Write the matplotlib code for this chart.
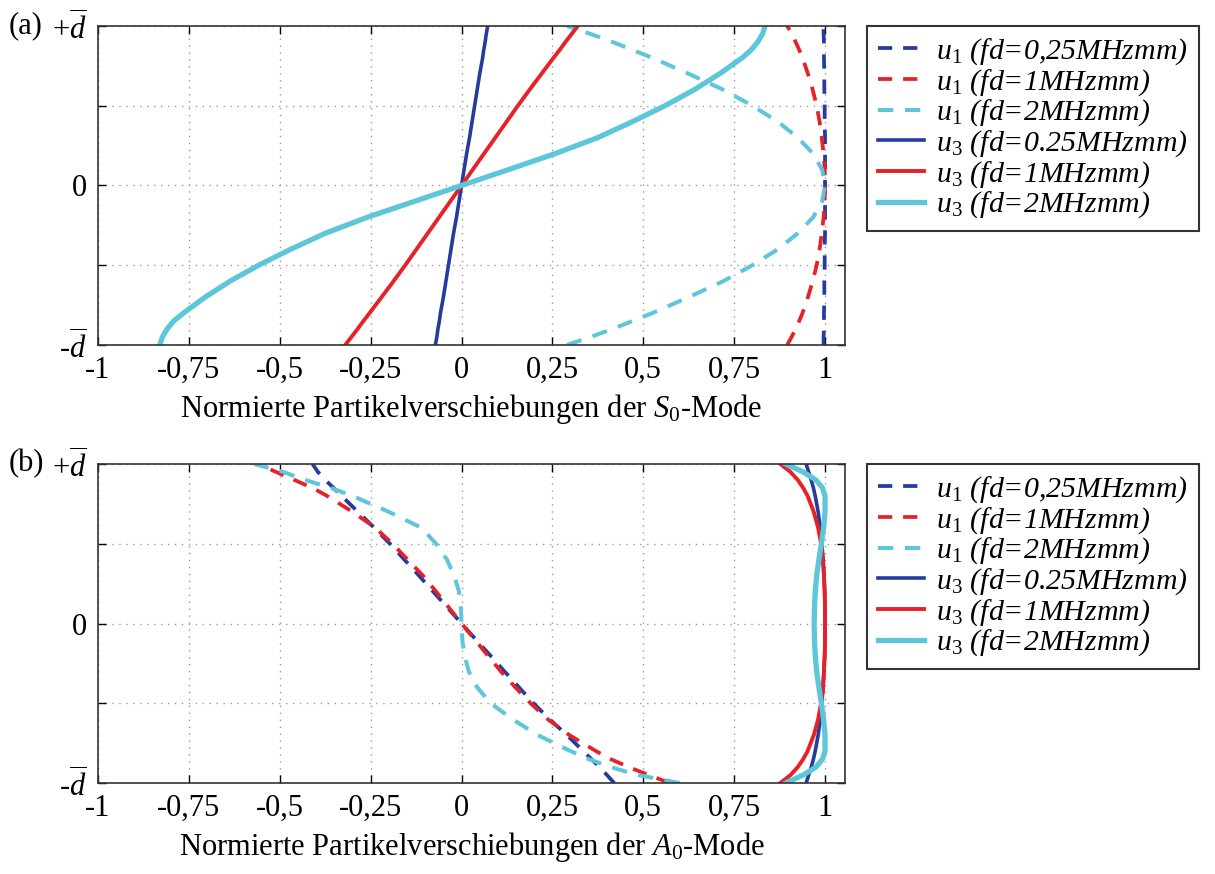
import matplotlib
matplotlib.use("Agg")
import matplotlib.pyplot as plt

plt.rcParams['font.family'] = ['Liberation Serif', 'DejaVu Serif']
plt.rcParams['mathtext.fontset'] = 'custom'
plt.rcParams['mathtext.rm'] = 'Liberation Serif'
plt.rcParams['mathtext.it'] = 'Liberation Serif:italic'
plt.rcParams['mathtext.bf'] = 'Liberation Serif:bold'

# position across the plate thickness (-d .. +d, normalised)
pos = [-1, -0.95, -0.9, -0.85, -0.8, -0.7, -0.6, -0.5, -0.4, -0.3, -0.2, -0.1, 0,
       0.1, 0.2, 0.3, 0.4, 0.5, 0.6, 0.7, 0.8, 0.85, 0.9, 0.95, 1]

# (a) S0 mode
s0_u1_025 = [0.996, 0.996, 0.997, 0.997, 0.997, 0.998, 0.998, 0.999, 0.999, 1.0, 1.0, 1.0, 1.0,
             1.0, 1.0, 1.0, 0.999, 0.999, 0.998, 0.998, 0.997, 0.997, 0.997, 0.996, 0.996]
s0_u1_1 = [0.896, 0.908, 0.919, 0.929, 0.938, 0.953, 0.966, 0.977, 0.985, 0.991, 0.996, 0.999, 1.0,
           0.999, 0.996, 0.991, 0.985, 0.977, 0.966, 0.953, 0.938, 0.929, 0.919, 0.908, 0.896]
s0_u1_2 = [0.29, 0.355, 0.415, 0.47, 0.525, 0.625, 0.72, 0.80, 0.87, 0.925, 0.967, 0.992, 1.0,
           0.992, 0.967, 0.925, 0.87, 0.80, 0.72, 0.625, 0.525, 0.47, 0.415, 0.355, 0.29]
s0_u3_025 = [-0.072, -0.068, -0.065, -0.061, -0.058, -0.05, -0.043, -0.036, -0.029, -0.022, -0.014, -0.007, 0,
             0.007, 0.014, 0.022, 0.029, 0.036, 0.043, 0.05, 0.058, 0.061, 0.065, 0.068, 0.072]
s0_u3_1 = [-0.32, -0.303, -0.286, -0.27, -0.253, -0.22, -0.187, -0.155, -0.124, -0.093, -0.062, -0.031, 0,
           0.031, 0.062, 0.093, 0.124, 0.155, 0.187, 0.22, 0.253, 0.27, 0.286, 0.303, 0.32]
s0_u3_2 = [-0.83, -0.823, -0.81, -0.792, -0.765, -0.705, -0.637, -0.558, -0.47, -0.375, -0.26, -0.13, 0,
           0.13, 0.258, 0.375, 0.47, 0.56, 0.64, 0.71, 0.772, 0.797, 0.815, 0.828, 0.835]

# (b) A0 mode
a0_u1_025 = [0.42, 0.40, 0.38, 0.357, 0.335, 0.29, 0.242, 0.198, 0.158, 0.118, 0.079, 0.039, 0,
             -0.039, -0.078, -0.117, -0.157, -0.197, -0.24, -0.285, -0.33, -0.352, -0.375, -0.395, -0.41]
a0_u1_1 = [0.573, 0.515, 0.46, 0.41, 0.37, 0.297, 0.237, 0.19, 0.148, 0.108, 0.072, 0.036, 0,
           -0.035, -0.07, -0.106, -0.148, -0.19, -0.237, -0.30, -0.37, -0.41, -0.46, -0.51, -0.56]
a0_u1_2 = [0.60, 0.485, 0.41, 0.35, 0.30, 0.21, 0.14, 0.08, 0.043, 0.02, 0.008, 0.002, 0,
           -0.002, -0.007, -0.02, -0.04, -0.07, -0.11, -0.20, -0.30, -0.36, -0.43, -0.49, -0.57]
a0_u3_025 = [0.948, 0.955, 0.962, 0.968, 0.973, 0.981, 0.987, 0.991, 0.995, 0.997, 0.999, 1.0, 1.0,
             1.0, 0.999, 0.997, 0.995, 0.991, 0.987, 0.981, 0.973, 0.968, 0.962, 0.955, 0.948]
a0_u3_1 = [0.877, 0.905, 0.925, 0.94, 0.952, 0.969, 0.981, 0.989, 0.994, 0.997, 0.999, 1.0, 1.0,
           1.0, 0.999, 0.997, 0.994, 0.989, 0.981, 0.969, 0.952, 0.94, 0.925, 0.905, 0.877]
a0_u3_2 = [0.892, 0.94, 0.975, 0.993, 1.0, 1.0, 0.996, 0.99, 0.983, 0.977, 0.973, 0.971, 0.97,
           0.971, 0.973, 0.977, 0.983, 0.99, 0.996, 1.0, 1.0, 0.993, 0.975, 0.94, 0.892]

labels = [r'u$_{\mathit{1}}$ (fd=0,25MHzmm)',
          r'u$_{\mathit{1}}$ (fd=1MHzmm)',
          r'u$_{\mathit{1}}$ (fd=2MHzmm)',
          r'u$_{\mathit{3}}$ (fd=0.25MHzmm)',
          r'u$_{\mathit{3}}$ (fd=1MHzmm)',
          r'u$_{\mathit{3}}$ (fd=2MHzmm)']

xticks = [-1, -0.75, -0.5, -0.25, 0, 0.25, 0.5, 0.75, 1]
xticklabels = ['-1', '-0,75', '-0,5', '-0,25', '0', '0,25', '0,5', '0,75', '1']
yticks = [-1, -0.5, 0, 0.5, 1]
yticklabels = [r'-$\mathit{\overline{d}}$', '', '0', '', r'+$\mathit{\overline{d}}$']

blue = '#243c9e'
red = '#e62228'
cyan = '#5ec6da'
dash = (3.8, 2.9)

fig = plt.figure(figsize=(12.15, 8.74), dpi=100)
ax_a = fig.add_axes([0.0807, 0.6053, 0.6148, 0.365])
ax_b = fig.add_axes([0.0807, 0.1041, 0.6148, 0.365])


def panel(ax, data, tag, mode):
    u1a, u1b, u1c, u3a, u3b, u3c = data
    ax.plot(u1a, pos, color=blue, lw=2.7, dashes=dash, label=labels[0])
    ax.plot(u1b, pos, color=red, lw=2.7, dashes=dash, label=labels[1])
    ax.plot(u1c, pos, color=cyan, lw=2.9, dashes=dash, label=labels[2])
    ax.plot(u3a, pos, color=blue, lw=2.6, label=labels[3])
    ax.plot(u3b, pos, color=red, lw=2.8, label=labels[4])
    ax.plot(u3c, pos, color=cyan, lw=3.8, label=labels[5])

    ax.set_xlim(-1, 1.055)
    ax.set_ylim(-1, 1)
    ax.set_xticks(xticks)
    ax.set_xticklabels(xticklabels, fontsize=22)
    ax.set_yticks(yticks)
    ax.set_yticklabels(yticklabels, fontsize=22)
    ax.tick_params(direction='in', length=6, width=1, top=True, right=True, pad=8)
    ax.grid(True, linestyle=(0, (1, 4)), color='#999999', linewidth=1)
    for s in ax.spines.values():
        s.set_linewidth(1.2)
        s.set_color('#333333')
    ax.set_xlabel('Normierte Partikelverschiebungen der $' + mode + r'_{\mathit{0}}$-Mode',
                  fontsize=22, labelpad=5)
    ax.text(-0.12, 1.0, tag, transform=ax.transAxes, fontsize=22, ha='left', va='center')
    leg = ax.legend(loc='upper left', bbox_to_anchor=(1.0295, 1.0),
                    prop={'family': 'Liberation Serif', 'style': 'italic', 'size': 21.5},
                    frameon=True, fancybox=False, framealpha=1, edgecolor='#333333',
                    labelspacing=0.0, handlelength=1.55, handletextpad=0.42,
                    borderpad=0.35, borderaxespad=0)
    leg.get_frame().set_linewidth(1.5)


panel(ax_a, [s0_u1_025, s0_u1_1, s0_u1_2, s0_u3_025, s0_u3_1, s0_u3_2], '(a)', 'S')
panel(ax_b, [a0_u1_025, a0_u1_1, a0_u1_2, a0_u3_025, a0_u3_1, a0_u3_2], '(b)', 'A')

fig.savefig('out.png', dpi=100)
